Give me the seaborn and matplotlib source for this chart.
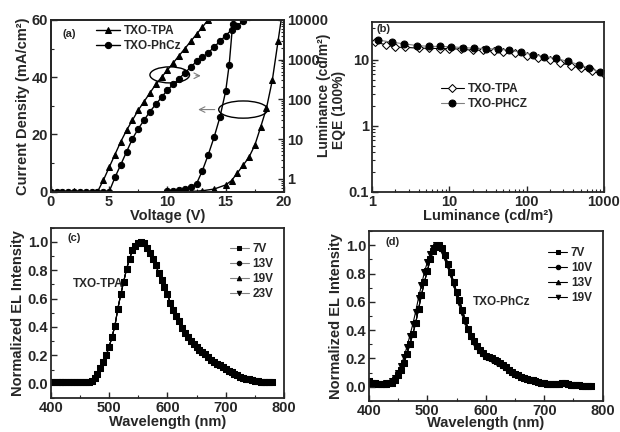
import numpy as np
import pandas as pd
import seaborn as sns
import matplotlib.pyplot as plt
from matplotlib.patches import Ellipse
from matplotlib.ticker import MultipleLocator, LogLocator, NullFormatter

sns.set_style("ticks")
plt.rcParams['font.family'] = ['Liberation Sans', 'DejaVu Sans']
plt.rcParams['font.weight'] = 'bold'
plt.rcParams['axes.labelweight'] = 'bold'
plt.rcParams['axes.linewidth'] = 1.3
plt.rcParams['xtick.direction'] = 'in'
plt.rcParams['ytick.direction'] = 'in'

# (a) current density vs voltage
v_tpa_j = [0, 0.5, 1, 1.5, 2, 2.5, 3, 3.5, 4, 4.5, 5, 5.5, 6, 6.5, 7, 7.5, 8, 8.5, 9, 9.5,
           10, 10.5, 11, 11.5, 12, 12.5, 13, 13.5]
j_tpa = [0, 0, 0, 0, 0.3, 0, 0, 0, 0, 4, 8.5, 13, 17.5, 21.5, 25, 28.5, 31.5, 34.5, 37.5, 40,
         42.5, 45, 47.5, 50, 52.5, 55, 57.5, 60]
v_phcz_j = [0, 0.5, 1, 1.5, 2, 2.5, 3, 3.5, 4, 4.5, 5, 5.5, 6, 6.5, 7, 7.5, 8, 8.5, 9, 9.5,
            10, 10.5, 11, 11.5, 12, 12.5, 13, 13.5, 14, 14.5, 15, 15.5, 16, 16.5, 17]
j_phcz = [0, 0, 0, 0, 0, 0, 0, 0, 0, 0, 0, 5, 9.5, 14, 18.5, 22, 25, 28, 30.5, 33,
          35.5, 37.5, 39.5, 41.5, 43.5, 45.5, 47, 48.5, 50.5, 52.5, 54.5, 56.5, 58, 59.5, 61]

# (a) luminance vs voltage
v_tpa_l = [12, 13, 14, 15, 15.5, 16, 16.5, 17, 17.5, 18, 18.5, 19, 19.5, 19.8]
l_tpa = [0.48, 0.5, 0.55, 0.7, 0.9, 1.4, 2.2, 3.5, 7, 20, 60, 300, 3000, 12000]
v_phcz_l = [10, 10.5, 11, 11.5, 12, 12.5, 13, 13.5, 14, 14.5, 15, 15.3, 15.6, 15.75]
l_phcz = [0.48, 0.5, 0.52, 0.56, 0.62, 0.75, 1.6, 4, 11, 35, 160, 740, 7900, 15000]

# (b) EQE vs luminance
lum_tpa = [1.1, 1.5, 2, 2.7, 4, 5.5, 7.5, 10, 14, 20, 27, 38, 50, 70, 100, 140, 200, 270,
           380, 500, 700, 1000]
eqe_tpa = [18.5, 17, 15.5, 15.5, 15, 15, 14.8, 14.8, 14.5, 14, 14, 13.8, 13.2, 12.5, 11.5,
           10.5, 9.8, 9, 8.2, 7.5, 6.7, 6]
lum_phcz = [1.2, 1.8, 2.6, 3.8, 5.5, 7.5, 10.5, 15, 21, 30, 43, 60, 85, 120, 170, 240, 340,
            470, 650, 900]
eqe_phcz = [20, 18.5, 17.5, 16.5, 16, 16, 15.8, 15.3, 15, 14.8, 14.5, 14, 13, 12, 11.2,
            10.5, 9.5, 8.5, 7.5, 6.5]

# (c) / (d) EL spectra
wl = list(range(400, 785, 5))
el_tpa = [0.01, 0.01, 0.01, 0.01, 0.01, 0.01, 0.01, 0.01, 0.01, 0.01, 0.01, 0.01, 0.01,
          0.01, 0.02, 0.04, 0.07, 0.11, 0.15, 0.20, 0.26, 0.33, 0.41, 0.53, 0.63, 0.72,
          0.81, 0.88, 0.94, 0.97, 0.99, 1.0, 0.99, 0.96, 0.92, 0.88, 0.84, 0.78, 0.73, 0.68,
          0.63, 0.57, 0.52, 0.48, 0.44, 0.39, 0.36, 0.33, 0.30, 0.28, 0.26, 0.24, 0.22,
          0.21, 0.19, 0.17, 0.155, 0.14, 0.13, 0.12, 0.105, 0.09, 0.08, 0.07, 0.06, 0.05,
          0.04, 0.035, 0.03, 0.025, 0.02, 0.018, 0.015, 0.012, 0.01, 0.01, 0.01]
el_phcz = [0.04, 0.03, 0.025, 0.02, 0.02, 0.02, 0.02, 0.025, 0.03, 0.05, 0.08, 0.12, 0.17,
           0.23, 0.30, 0.37, 0.45, 0.55, 0.65, 0.74, 0.82, 0.90, 0.96, 0.99, 1.0, 0.98, 0.93,
           0.87, 0.81, 0.74, 0.67, 0.61, 0.54, 0.47, 0.41, 0.36, 0.32, 0.29, 0.26, 0.24,
           0.22, 0.21, 0.20, 0.19, 0.18, 0.17, 0.155, 0.14, 0.12, 0.105, 0.09, 0.08, 0.07,
           0.06, 0.055, 0.05, 0.045, 0.04, 0.035, 0.03, 0.025, 0.022, 0.02, 0.02, 0.02, 0.02,
           0.025, 0.025, 0.02, 0.015, 0.012, 0.01, 0.01, 0.008, 0.006, 0.005, 0.005]
el_phcz_19v = [0.04, 0.03, 0.025, 0.02, 0.02, 0.02, 0.025, 0.03, 0.04, 0.06, 0.10, 0.15,
               0.21, 0.28, 0.36, 0.44, 0.53, 0.63, 0.72, 0.81, 0.88, 0.94, 0.98, 1.0, 0.99,
               0.96, 0.91, 0.85, 0.79, 0.72, 0.65, 0.59, 0.52, 0.46, 0.40, 0.35, 0.31, 0.28,
               0.25, 0.23, 0.21, 0.20, 0.19, 0.18, 0.17, 0.16, 0.15, 0.135, 0.12, 0.10,
               0.09, 0.08, 0.07, 0.06, 0.055, 0.05, 0.045, 0.04, 0.035, 0.03, 0.025, 0.022,
               0.02, 0.02, 0.02, 0.02, 0.025, 0.025, 0.02, 0.015, 0.012, 0.01, 0.01, 0.008,
               0.006, 0.005, 0.005]
volts_c = ['7V', '13V', '19V', '23V']
volts_d = ['7V', '10V', '13V', '19V']
marks = ['s', 'o', '^', 'v']

fig = plt.figure(figsize=(6.2, 4.32), dpi=100)
ax_a = fig.add_axes([0.082, 0.556, 0.376, 0.398])
ax_b = fig.add_axes([0.600, 0.556, 0.374, 0.394])
ax_c = fig.add_axes([0.082, 0.079, 0.376, 0.394])
ax_d = fig.add_axes([0.595, 0.072, 0.377, 0.393])

fs = 10.5

# ---- (a)
sns.lineplot(x=v_tpa_j, y=j_tpa, marker='^', color='k', lw=1, ms=4.5, mec='k',
             label='TXO-TPA', ax=ax_a, sort=False)
sns.lineplot(x=v_phcz_j, y=j_phcz, marker='o', color='k', lw=1, ms=4.5, mec='k',
             label='TXO-PhCz', ax=ax_a, sort=False)
ax_a.set_xlim(0, 20)
ax_a.set_ylim(0, 60)
ax_a.xaxis.set_major_locator(MultipleLocator(5))
ax_a.xaxis.set_minor_locator(MultipleLocator(2.5))
ax_a.yaxis.set_major_locator(MultipleLocator(20))
ax_a.yaxis.set_minor_locator(MultipleLocator(10))
ax_a.set_xlabel('Voltage (V)', fontsize=fs, labelpad=0)
ax_a.set_ylabel('Current Density (mA/cm²)', fontsize=fs, labelpad=1)
ax_a.legend(loc='upper left', bbox_to_anchor=(0.15, 1.03), frameon=False, fontsize=8.5,
            handlelength=2, labelspacing=0.2, handletextpad=0.3)
ax_a.text(0.05, 0.9, '(a)', transform=ax_a.transAxes, fontsize=8)
ax_a.add_patch(Ellipse((10.2, 40.8), 3.4, 5.6, fill=False, lw=1, ec='k'))
ax_a.add_patch(Ellipse((16.5, 28.7), 4.2, 6.0, fill=False, lw=1, ec='k'))
ax_a.annotate('', xy=(13.1, 40.5), xytext=(12.2, 40.5),
              arrowprops=dict(arrowstyle='->', color='gray', lw=0.8))
ax_a.annotate('', xy=(12.4, 28.7), xytext=(14.3, 28.7),
              arrowprops=dict(arrowstyle='->', color='gray', lw=0.8))

ax_a2 = ax_a.twinx()
sns.lineplot(x=v_tpa_l, y=l_tpa, marker='^', color='k', lw=1, ms=4.5, mec='k', ax=ax_a2,
             sort=False)
sns.lineplot(x=v_phcz_l, y=l_phcz, marker='o', color='k', lw=1, ms=4.5, mec='k', ax=ax_a2,
             sort=False)
ax_a2.set_yscale('log')
ax_a2.set_ylim(0.47, 10000)
ax_a2.set_xlim(0, 20)
ax_a2.set_yticks([1, 10, 100, 1000, 10000])
ax_a2.set_yticklabels(['1', '10', '100', '1000', '10000'])
ax_a2.yaxis.set_minor_locator(LogLocator(subs=np.arange(2, 10)))
ax_a2.yaxis.set_minor_formatter(NullFormatter())
ax_a2.set_ylabel('Luminance (cd/m²)', fontsize=10)
ax_a2.yaxis.set_label_coords(1.143, 0.56)

# ---- (b)
sns.lineplot(x=lum_tpa, y=eqe_tpa, marker='D', color='k', lw=0.8, ms=4, mfc='white',
             mec='k', label='TXO-TPA', ax=ax_b, sort=False)
sns.lineplot(x=lum_phcz, y=eqe_phcz, marker='o', color='gray', lw=0.8, ms=5, mfc='k',
             mec='k', label='TXO-PHCZ', ax=ax_b, sort=False)
ax_b.set_xscale('log')
ax_b.set_yscale('log')
ax_b.set_xlim(1, 1000)
ax_b.set_ylim(0.1, 38)
ax_b.set_xticks([1, 10, 100, 1000])
ax_b.set_xticklabels(['1', '10', '100', '1000'])
ax_b.set_yticks([0.1, 1, 10])
ax_b.set_yticklabels(['0.1', '1', '10'])
for axis in [ax_b.xaxis, ax_b.yaxis]:
    axis.set_minor_locator(LogLocator(subs=np.arange(2, 10)))
    axis.set_minor_formatter(NullFormatter())
ax_b.set_xlabel('Luminance (cd/m²)', fontsize=fs, labelpad=0)
ax_b.set_ylabel('EQE (100%)', fontsize=10)
ax_b.yaxis.set_label_coords(-0.11, 0.48)
ax_b.legend(loc='center left', bbox_to_anchor=(0.25, 0.56), frameon=False, fontsize=8.5,
            handlelength=2, labelspacing=0.2, handletextpad=0.3)
ax_b.text(0.02, 0.94, '(b)', transform=ax_b.transAxes, fontsize=8)

# ---- (c)
for v, m in zip(volts_c, marks):
    sns.lineplot(x=wl, y=el_tpa, marker=m, color='k', lw=0.8, ms=4, mec='k', label=v,
                 ax=ax_c, sort=False)
ax_c.set_xlim(400, 800)
ax_c.set_ylim(-0.1, 1.1)
ax_c.xaxis.set_major_locator(MultipleLocator(100))
ax_c.xaxis.set_minor_locator(MultipleLocator(50))
ax_c.yaxis.set_major_locator(MultipleLocator(0.2))
ax_c.yaxis.set_minor_locator(MultipleLocator(0.1))
ax_c.yaxis.set_major_formatter(lambda y, p: f'{y:.1f}')
ax_c.set_xlabel('Wavelength (nm)', fontsize=fs, labelpad=0)
ax_c.set_ylabel('Normalized EL Intensity', fontsize=fs, labelpad=2)
leg = ax_c.legend(loc='upper right', bbox_to_anchor=(1.0, 0.97), frameon=False,
                  fontsize=8.5, handlelength=1.6, labelspacing=0.25, handletextpad=0.3,
                  markerscale=0.8)
for h in leg.get_lines():
    h.set_color('gray')
    h.set_markerfacecolor('k')
    h.set_markeredgecolor('k')
ax_c.text(0.07, 0.92, '(c)', transform=ax_c.transAxes, fontsize=8)
ax_c.text(438, 0.68, 'TXO-TPA', fontsize=8.5)

# ---- (d)
d_series = [el_phcz, el_phcz, el_phcz, el_phcz_19v]
for v, m, s in zip(volts_d, marks, d_series):
    sns.lineplot(x=wl, y=s, marker=m, color='k', lw=0.8, ms=4, mec='k', label=v,
                 ax=ax_d, sort=False)
ax_d.set_xlim(400, 800)
ax_d.set_ylim(-0.1, 1.1)
ax_d.xaxis.set_major_locator(MultipleLocator(100))
ax_d.xaxis.set_minor_locator(MultipleLocator(50))
ax_d.yaxis.set_major_locator(MultipleLocator(0.2))
ax_d.yaxis.set_minor_locator(MultipleLocator(0.1))
ax_d.yaxis.set_major_formatter(lambda y, p: f'{y:.1f}')
ax_d.set_xlabel('Wavelength (nm)', fontsize=fs, labelpad=-1)
ax_d.set_ylabel('Normalized EL Intensity', fontsize=fs, labelpad=2)
ax_d.legend(loc='upper right', bbox_to_anchor=(1.0, 0.97), frameon=False,
            fontsize=8.5, handlelength=1.6, labelspacing=0.25, handletextpad=0.3,
            markerscale=0.8)
ax_d.text(0.07, 0.92, '(d)', transform=ax_d.transAxes, fontsize=8)
ax_d.text(578, 0.58, 'TXO-PhCz', fontsize=8.5)

for ax in [ax_a, ax_a2, ax_b, ax_c, ax_d]:
    ax.tick_params(labelsize=fs, which='major', length=4, width=1, pad=2)
    ax.tick_params(which='minor', length=2, width=0.8)
    for lab in ax.get_xticklabels() + ax.get_yticklabels():
        lab.set_fontweight('bold')
for ax in [ax_a, ax_b, ax_c, ax_d]:
    for sp in ax.spines.values():
        sp.set_visible(True)

fig.savefig('out.png', dpi=100)
